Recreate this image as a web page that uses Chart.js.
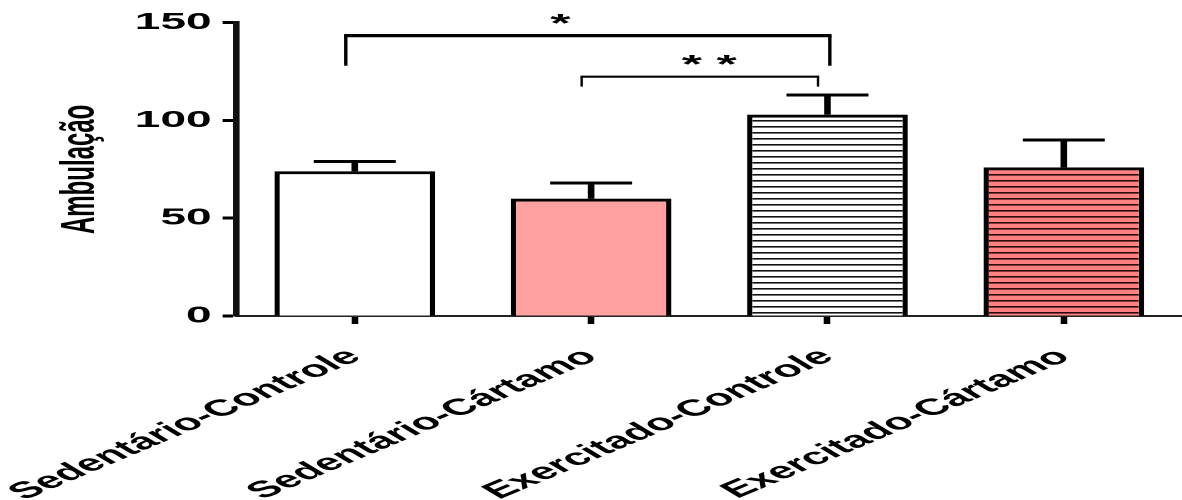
<!DOCTYPE html>
<html>
<head>
<meta charset="utf-8">
<script src="https://cdn.jsdelivr.net/npm/chart.js@4/dist/chart.umd.min.js"></script>
<style>
  html, body { margin: 0; padding: 0; background: #fff; overflow: hidden; }
  #wrap { width: 1182px; height: 500px; position: relative; }
  /* drawn on a half-width canvas, then widened 2x horizontally */
  #c { position: absolute; left: 0; top: 0; transform: scale(2, 1); transform-origin: 0 0; }
</style>
</head>
<body>
<div id="wrap"><canvas id="c" width="591" height="500"></canvas></div>
<script>
// Groups and measurements
const categories = ['Sedentário-Controle', 'Sedentário-Cártamo', 'Exercitado-Controle', 'Exercitado-Cártamo'];
const means = [74, 60, 103, 76];
const sem = [5, 8, 10, 14];
const yTicks = [0, 50, 100, 150];

// Significance brackets: from group, to group, bracket top, leg bottom, label, label position
const bracketFrom = [0, 1];
const bracketTo = [2, 2];
const bracketTop = [143.4, 122.4];
const bracketLegEnd = [128, 117.3];
const bracketLabels = ['*', '* *'];
const bracketLabelAt = [0.87, 1.5];
const bracketLabelY = [152, 131];

const canvas = document.getElementById('c');
const ctx = canvas.getContext('2d');

function stripes(bg, line) {
  const k = 2;
  const p = document.createElement('canvas');
  p.width = 4 * k; p.height = 6 * k;
  const g = p.getContext('2d');
  g.fillStyle = bg; g.fillRect(0, 0, p.width, p.height);
  g.fillStyle = line; g.fillRect(0, 0, p.width, 1.6 * k);
  const pat = ctx.createPattern(p, 'repeat');
  pat.setTransform(new DOMMatrix().scale(1 / k, 1 / k));
  return pat;
}

const fills = ['#ffffff', '#ffa1a1', stripes('#ffffff', '#111111'), stripes('#ff8080', '#2a0a0a')];

const annotations = {
  id: 'annotations',
  afterDatasetsDraw(chart) {
    const { ctx } = chart;
    const xs = chart.scales.x, ys = chart.scales.y;
    const xAt = v => xs.getPixelForValue(0) + v * (xs.getPixelForValue(1) - xs.getPixelForValue(0));
    ctx.save();
    ctx.strokeStyle = '#000';
    ctx.fillStyle = '#000';
    ctx.lineCap = 'butt';
    // upper error bars
    means.forEach((m, i) => {
      const x = xs.getPixelForValue(i);
      const y0 = ys.getPixelForValue(m);
      const y1 = ys.getPixelForValue(m + sem[i]);
      ctx.lineWidth = 3.3;
      ctx.beginPath(); ctx.moveTo(x, y0); ctx.lineTo(x, y1 - 1.5); ctx.stroke();
      ctx.lineWidth = 3;
      ctx.beginPath(); ctx.moveTo(x - 20.5, y1); ctx.lineTo(x + 20.5, y1); ctx.stroke();
    });
    // brackets
    const offs = [[-0.038, 0.01], [-0.04, -0.04]];
    const hw = [3.2, 2.2], lw = [1.7, 1.2];
    bracketFrom.forEach((f, i) => {
      const xa = xAt(f + offs[i][0]);
      const xb = xAt(bracketTo[i] + offs[i][1]);
      const yt = ys.getPixelForValue(bracketTop[i]);
      const yl = ys.getPixelForValue(bracketLegEnd[i]);
      ctx.lineWidth = lw[i];
      ctx.beginPath();
      ctx.moveTo(xa, yl); ctx.lineTo(xa, yt);
      ctx.moveTo(xb, yt); ctx.lineTo(xb, yl);
      ctx.stroke();
      ctx.lineWidth = hw[i];
      ctx.beginPath(); ctx.moveTo(xa - lw[i] / 2, yt); ctx.lineTo(xb + lw[i] / 2, yt); ctx.stroke();
      ctx.font = 'bold 26px "Liberation Sans", Arial, sans-serif';
      ctx.textAlign = 'center';
      ctx.textBaseline = 'middle';
      ctx.fillText(bracketLabels[i], xAt(bracketLabelAt[i]), ys.getPixelForValue(bracketLabelY[i]) + 6);
    });
    ctx.restore();
  }
};

Chart.defaults.font.family = '"Liberation Sans", Arial, sans-serif';
Chart.defaults.color = '#000';

new Chart(ctx, {
  type: 'bar',
  data: {
    labels: categories,
    datasets: [{
      data: means,
      backgroundColor: fills,
      borderColor: '#000',
      borderWidth: { top: 3, left: 2.7, right: 2.7, bottom: 0 },
      borderSkipped: 'start',
      barPercentage: 0.68,
      categoryPercentage: 1
    }]
  },
  options: {
    responsive: false,
    devicePixelRatio: 2,
    animation: false,
    layout: { padding: { top: 22.7, right: 0, bottom: 0, left: 0 } },
    plugins: { legend: { display: false }, tooltip: { enabled: false } },
    scales: {
      x: {
        grid: { offset: false, drawOnChartArea: false, tickLength: 8, tickWidth: 3.3, tickColor: '#000' },
        border: { display: true, width: 2, color: '#222' },
        ticks: { font: { size: 23, weight: 'bold' }, color: '#000', minRotation: 40, maxRotation: 40, autoSkip: false, padding: 19 },
        afterFit(s) { s.height = 184; s.paddingLeft = 0; s.paddingRight = 0; }
      },
      y: {
        min: 0, max: 150,
        afterBuildTicks(s) { s.ticks = yTicks.map(v => ({ value: v })); },
        grid: { drawOnChartArea: false, tickLength: 7, tickWidth: 3, tickColor: '#000' },
        border: { display: true, width: 3.3, color: '#111' },
        ticks: { font: { size: 23, weight: 'bold' }, color: '#000', padding: 5.5 },
        title: { display: true, text: 'Ambulação', font: { size: 24, weight: 'bold' }, color: '#000', padding: { top: 26, bottom: 0 } },
        afterFit(s) { s.width = 118.3; s.paddingTop = 0; s.paddingBottom = 0; }
      }
    }
  },
  plugins: [annotations]
});
</script>
</body>
</html>
